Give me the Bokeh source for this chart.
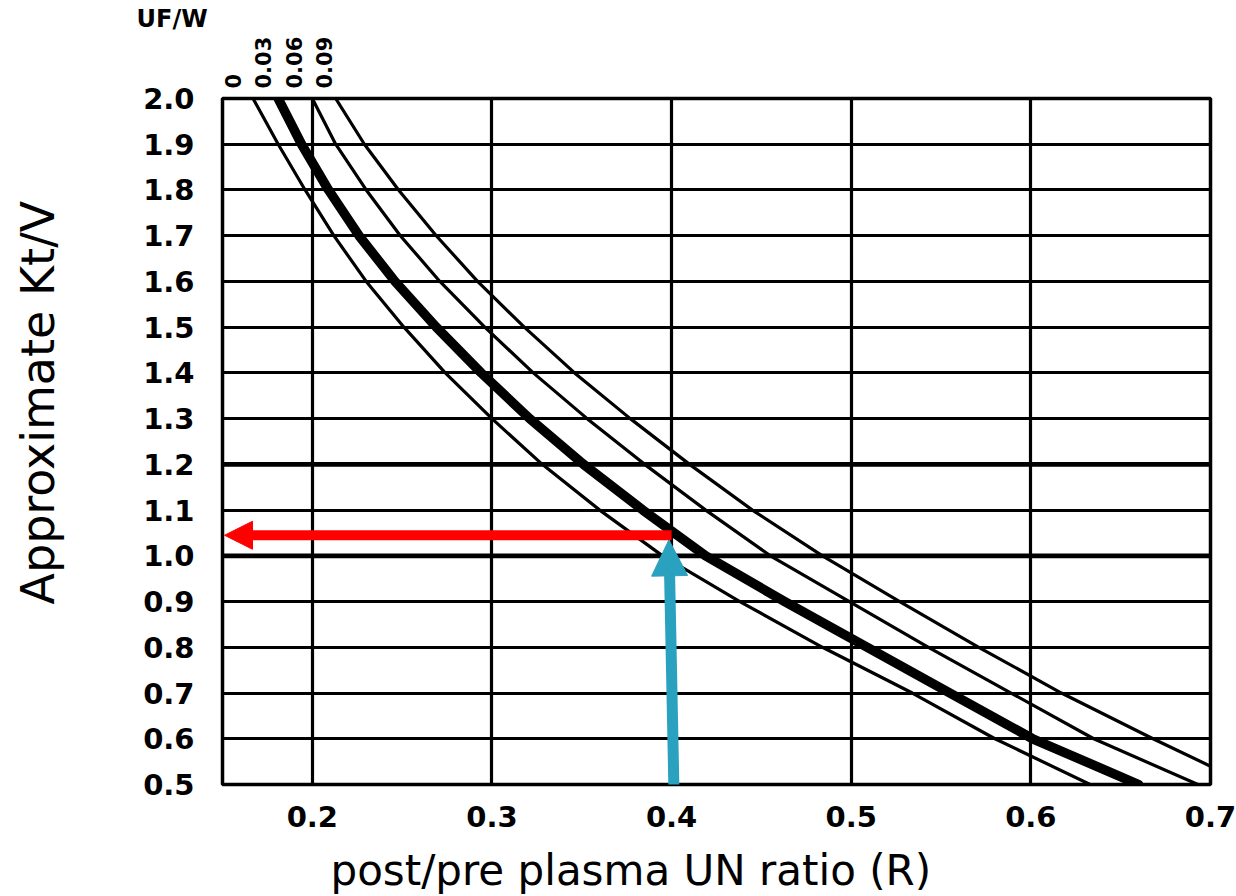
import math
from bokeh.plotting import figure
from bokeh.models import (Range1d, FixedTicker, Arrow, NormalHead, Span, PrintfTickFormatter,
                          LinearAxis, Title)
from bokeh.embed import file_html
from bokeh.resources import INLINE

# ---- data ----
kt_levels = [2.0, 1.9, 1.8, 1.7, 1.6, 1.5, 1.4, 1.3, 1.2, 1.1, 1.0, 0.9, 0.8, 0.7, 0.6, 0.5]
r_uf000 = [0.167, 0.181, 0.196, 0.212, 0.230, 0.251, 0.274, 0.300, 0.328, 0.360, 0.395, 0.438, 0.484, 0.534, 0.580, 0.633]
r_uf003 = [0.181, 0.194, 0.209, 0.226, 0.246, 0.269, 0.294, 0.321, 0.351, 0.384, 0.419, 0.463, 0.509, 0.555, 0.601, 0.660]
r_uf006 = [0.200, 0.213, 0.230, 0.249, 0.271, 0.296, 0.323, 0.353, 0.385, 0.419, 0.455, 0.499, 0.543, 0.589, 0.635, 0.693]
kt_uf009 = [2.0, 1.9, 1.8, 1.7, 1.6, 1.5, 1.4, 1.3, 1.2, 1.1, 1.0, 0.9, 0.8, 0.7, 0.6, 0.54]
r_uf009 = [0.213, 0.229, 0.248, 0.269, 0.292, 0.318, 0.346, 0.377, 0.410, 0.445, 0.484, 0.527, 0.571, 0.617, 0.668, 0.700]
uf_labels = ["0", "0.03", "0.06", "0.09"]
x_ticks = [0.2, 0.3, 0.4, 0.5, 0.6, 0.7]
y_ticks = [0.5, 0.6, 0.7, 0.8, 0.9, 1.0, 1.1, 1.2, 1.3, 1.4, 1.5, 1.6, 1.7, 1.8, 1.9, 2.0]
example_r = 0.4
example_kt = 1.045

p = figure(width=1236, height=896, output_backend="svg", toolbar_location=None,
           x_range=Range1d(0.15, 0.7), y_range=Range1d(0.5, 2.0),
           min_border_left=222, min_border_right=26, min_border_top=98, min_border_bottom=111)
p.background_fill_color = "white"
p.border_fill_color = "white"
p.outline_line_color = "black"
p.outline_line_width = 3.5

# grid
p.xgrid.ticker = FixedTicker(ticks=[0.2, 0.3, 0.4, 0.5, 0.6])
p.ygrid.ticker = FixedTicker(ticks=y_ticks[1:-1])
for g in (p.xgrid, p.ygrid):
    g.grid_line_color = "black"
    g.grid_line_width = 3.2
    g.grid_line_alpha = 1.0
for yv in (1.0, 1.2):
    p.add_layout(Span(location=yv, dimension="width", line_color="black", line_width=4.8, level="underlay"))

# helper: pixel -> data (frame spans 222..1210 x)
fx0, fx1 = 222, 1210
def px_x(px):
    return 0.15 + (px - fx0) / (fx1 - fx0) * 0.55

# axes
tick_font = "DejaVu Sans"
p.xaxis.ticker = FixedTicker(ticks=x_ticks)
p.yaxis.ticker = FixedTicker(ticks=y_ticks)
for ax in (p.xaxis, p.yaxis):
    ax.formatter = PrintfTickFormatter(format="%.1f")
    ax.axis_line_color = None
    ax.major_tick_line_color = None
    ax.minor_tick_line_color = None
    ax.major_label_text_font = tick_font
    ax.major_label_text_font_style = "bold"
    ax.major_label_text_font_size = "29px"
    ax.major_label_text_color = "black"
p.xaxis.major_label_standoff = 15
p.yaxis.major_label_standoff = 22

# top axis carrying the UF/W curve labels
label_px = [232, 262, 293, 323]
label_pos = [px_x(v) for v in label_px]
top_axis = LinearAxis(ticker=FixedTicker(ticks=label_pos),
                      major_label_overrides={pos: lbl for pos, lbl in zip(label_pos, uf_labels)},
                      major_label_orientation=math.pi / 2,
                      axis_line_color=None, major_tick_line_color=None, minor_tick_line_color=None,
                      major_label_standoff=4,
                      major_label_text_font=tick_font, major_label_text_font_style="bold",
                      major_label_text_font_size="21px", major_label_text_color="black")
p.add_layout(top_axis, "above")

# titles outside the frame
p.add_layout(Title(text="UF/W", align="left", offset=-86, vertical_align="bottom", standoff=1,
                   text_color="black", text_font=tick_font, text_font_style="bold",
                   text_font_size="24px"), "above")
p.add_layout(Title(text="Approximate Kt/V", align="left", offset=180, vertical_align="bottom", standoff=0,
                   padding=dict(left=0, right=0, top=0, bottom=76),
                   text_color="black", text_font="DejaVu Sans", text_font_style="normal",
                   text_font_size="46px"), "left")
p.add_layout(Title(text="post/pre plasma UN ratio (R)", align="left", offset=108, vertical_align="top",
                   standoff=0, padding=dict(left=0, right=0, top=16, bottom=0),
                   text_color="black", text_font="DejaVu Sans", text_font_style="normal",
                   text_font_size="42px"), "below")

# curves
curve_sets = [(r_uf000, kt_levels, 3.2), (r_uf003, kt_levels, 9.5), (r_uf006, kt_levels, 3.2), (r_uf009, kt_uf009, 3.2)]
for xs, ys, w in curve_sets:
    p.line(xs, ys, line_color="black", line_width=w, line_join="round", line_cap="round")

# example arrows
teal = "#2ba1c0"
p.add_layout(Arrow(x_start=example_r + 0.0015, y_start=0.45, x_end=example_r - 0.0015, y_end=example_kt - 0.01,
                   line_color=teal, line_width=11,
                   end=NormalHead(size=36, fill_color=teal, line_color=teal, line_width=1)))
p.add_layout(Arrow(x_start=example_r, y_start=example_kt, x_end=px_x(224), y_end=example_kt,
                   line_color="#ff0000", line_width=10,
                   end=NormalHead(size=28, fill_color="#ff0000", line_color="#ff0000", line_width=1)))

open("out.html", "w").write(file_html(p, INLINE))
